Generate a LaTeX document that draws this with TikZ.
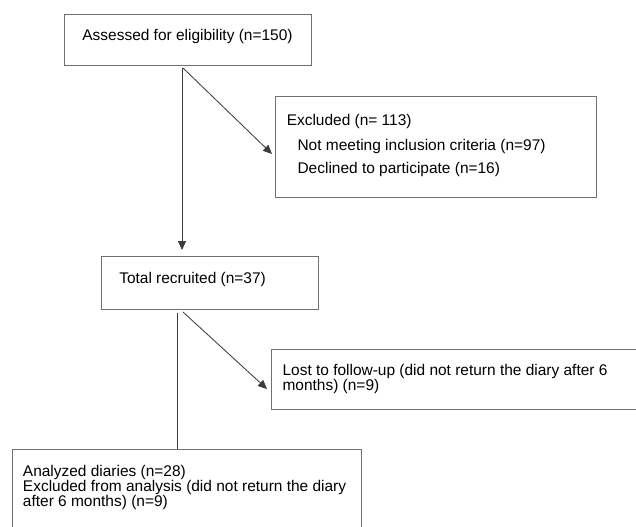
\documentclass[tikz,border=0pt]{standalone}
\usepackage{fontspec}
\setmainfont{Liberation Sans}
\usetikzlibrary{arrows.meta}
\definecolor{boxgray}{RGB}{112,112,112}
\definecolor{linegray}{RGB}{60,60,60}

\begin{document}
\begin{tikzpicture}[
    box/.style={draw=boxgray, line width=0.9pt, anchor=north west, inner sep=0pt},
    txt/.style={inner sep=0pt, text=black, font={\fontsize{11pt}{10.67pt}\selectfont}},
    flow/.style={draw=linegray, line width=0.6pt},
    flowarrow/.style={flow, -{Triangle[length=2.25mm,width=2mm]}}
  ]
                \useasboundingbox (0.000000,0.000000) rectangle (15.900000,13.150000);
                \clip (0.000000,0.000000) rectangle (15.900000,13.150000);

                % Drawing box assessed
                \node [box, minimum width=6.175cm, minimum height=1.275cm] (assessed) at (1.600000,12.800000) {};%
                \node [txt, anchor=base] (assessed-t) at (4.687500,12.137500) {Assessed for eligibility (n=150)};%

                % Drawing box excluded
                \node [box, minimum width=8.025cm, minimum height=2.525cm] (excluded) at (6.875000,10.750000) {};%
                \node [txt, anchor=base west] (excluded-t) at (7.162500,10.025000) {Excluded (n= 113)};%
                \node [txt, anchor=base west] (criteria-t) at (7.432500,9.400000) {Not meeting inclusion criteria (n=97)};%
                \node [txt, anchor=base west] (declined-t) at (7.432500,8.825000) {Declined to participate (n=16)};%

                % Drawing box total
                \node [box, minimum width=5.425cm, minimum height=1.325cm] (total) at (2.525000,6.750000) {};%
                \node [txt, anchor=base west] (total-t) at (2.975000,6.075000) {Total recruited (n=37)};%

                % Drawing box lost (runs past the right edge)
                \node [box, minimum width=9.725cm, minimum height=1.500cm] (lost) at (6.775000,4.425000) {};%
                \node [txt, anchor=north west, align=left] (lost-t) at (7.057500,4.058000)
                  {Lost to follow-up (did not return the diary after 6\\months) (n=9)};%

                % Drawing box analyzed (runs past the bottom edge)
                \node [box, minimum width=8.725cm, minimum height=2.500cm] (analyzed) at (0.300000,1.925000) {};%
                \node [txt, anchor=north west, align=left] (analyzed-t) at (0.567500,1.533000)
                  {Analyzed diaries (n=28)\\Excluded from analysis (did not return the diary\\after 6 months) (n=9)};%

                % Drawing arrows from assessed
                \coordinate (a1) at (4.550000,11.450000);%
                \coordinate (a2) at (4.575000,11.450000);%
                \coordinate (excluded-in) at (6.800000,9.300000);%
                \draw [flowarrow, shorten >=0.15cm] (a1) -- (a1 |- total.north);%
                \draw [flowarrow] (a2) -- (excluded-in);%

                % Drawing lines from total
                \coordinate (a3) at (4.425000,5.325000);%
                \coordinate (a4) at (4.575000,5.350000);%
                \coordinate (lost-in) at (6.675000,3.425000);%
                \draw [flow] (a3) -- (a3 |- analyzed.north);%
                \draw [flowarrow] (a4) -- (lost-in);%
\end{tikzpicture}
\end{document}
